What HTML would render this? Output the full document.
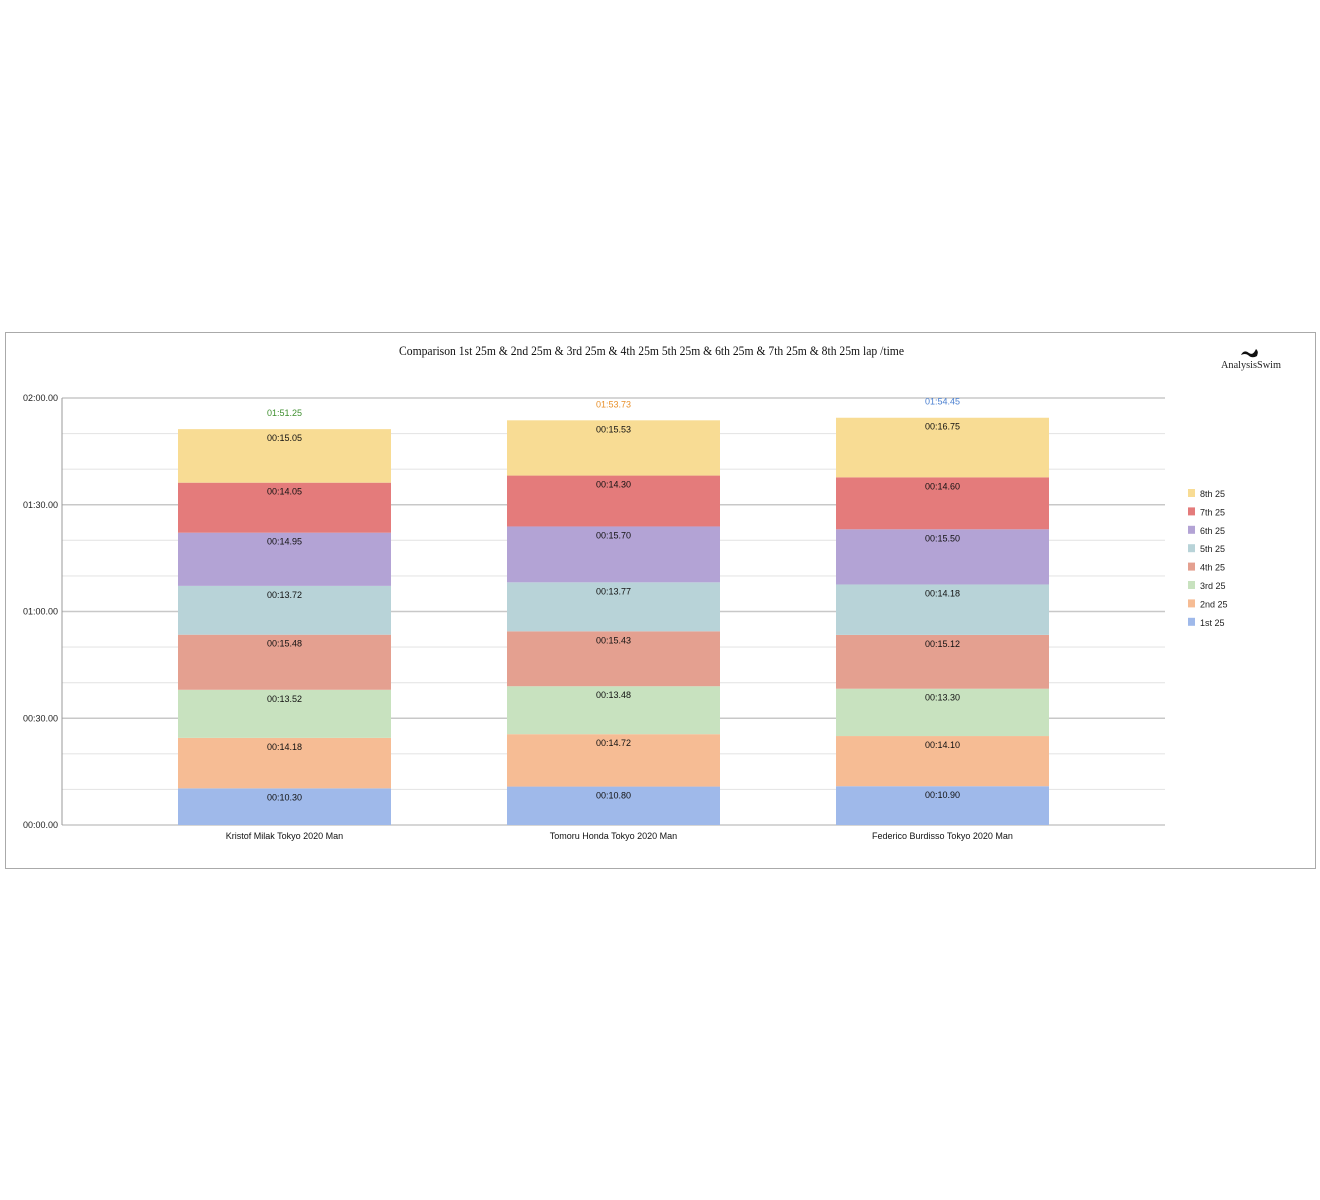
<!DOCTYPE html>
<html><head><meta charset="utf-8"><style>
body{margin:0;background:#fff;width:1320px;height:1200px;overflow:hidden;font-family:"Liberation Sans",sans-serif;}
#frame{position:absolute;left:5px;top:332px;width:1309px;height:535px;border:1px solid #aaa;}
</style></head><body>
<div id="frame"></div>
<svg id="c" width="1320" height="1200" style="position:absolute;left:0;top:0">
<text x="399" y="355" textLength="505" lengthAdjust="spacingAndGlyphs" font-family="Liberation Serif" font-size="13" fill="#111">Comparison 1st 25m &amp; 2nd 25m &amp; 3rd 25m &amp; 4th 25m 5th 25m &amp; 6th 25m &amp; 7th 25m &amp; 8th 25m lap /time</text>
<g><path d="M1241 355 q3 -6 8 -2 q4 3 7 -4 q3 2 1 7 q-5 3 -9 -1 q-3 -2 -7 0z" fill="#111"/><text x="1251" y="368" text-anchor="middle" font-family="Liberation Serif" font-size="11" textLength="60" lengthAdjust="spacingAndGlyphs" fill="#222">AnalysisSwim</text></g>
</svg>
<script>
const categories=["Kristof Milak  Tokyo 2020 Man","Tomoru Honda  Tokyo 2020 Man","Federico Burdisso Tokyo 2020 Man"];
const seriesNames=["1st 25","2nd 25","3rd 25","4th 25","5th 25","6th 25","7th 25","8th 25"];
const lap1=[10.30,10.80,10.90];
const lap2=[14.18,14.72,14.10];
const lap3=[13.52,13.48,13.30];
const lap4=[15.48,15.43,15.12];
const lap5=[13.72,13.77,14.18];
const lap6=[14.95,15.70,15.50];
const lap7=[14.05,14.30,14.60];
const lap8=[15.05,15.53,16.75];
const totalLabels=["01:51.25","01:53.73","01:54.45"];
const yTicks=[0,30,60,90,120];
const yTickLabels=["00:00.00","00:30.00","01:00.00","01:30.00","02:00.00"];
const series=[lap1,lap2,lap3,lap4,lap5,lap6,lap7,lap8];
const colors=["#9fb9ea","#f6bc94","#c8e2bf","#e4a090","#b8d3d8","#b3a3d5","#e47b7b","#f8dc94"];
const totalColors=["#3f8f2f","#e8902a","#4a7fd0"];
const NS="http://www.w3.org/2000/svg";
const svg=document.getElementById('c');
const y0=825,yTop=398,yMax=120;
const y=v=>y0-(v/yMax)*(y0-yTop);
const xC=i=>284.5+i*329;
const bw=213;
function mk(t,a,p){const e=document.createElementNS(NS,t);for(const k in a)e.setAttribute(k,a[k]);(p||svg).appendChild(e);return e;}
for(let v=0;v<=yMax;v+=10){
  const g=mk('line',{x1:62,x2:1165,y1:y(v),y2:y(v),stroke:v%30===0?'#c8c8c8':'#e6e6e6','stroke-width':v%30===0?1.5:1.2});
  
  
}
const ax=mk('line',{x1:62,x2:62,y1:yTop,y2:y0,stroke:'#999'});


yTicks.forEach((v,i)=>{
  const t=mk('text',{x:58,y:y(v)+3,'text-anchor':'end','font-size':9,fill:'#222'});
  t.textContent=yTickLabels[i];
  
  
});
categories.forEach((c,i)=>{
  let acc=0;
  series.forEach((s,k)=>{
    const v=s[i];
    const r=mk('rect',{x:xC(i)-bw/2,y:y(acc+v),width:bw,height:y(acc)-y(acc+v),fill:colors[k]});
    
    
    const t=mk('text',{x:xC(i),y:y(acc+v)+12,'text-anchor':'middle','font-size':9,fill:'#111'});
    t.textContent='00:'+v.toFixed(2).padStart(5,'0');
    
    
    acc+=v;
  });
  const tt=mk('text',{x:xC(i),y:y(acc)-13,'text-anchor':'middle','font-size':9,fill:totalColors[i]});
  tt.textContent=totalLabels[i];
  
  
  const xl=mk('text',{x:xC(i),y:839,'text-anchor':'middle','font-size':9,fill:'#111'});
  xl.textContent=c;
  
  
});
for(let k=7;k>=0;k--){
  const row=7-k;
  const g=mk('g',{});
  
  
  mk('rect',{x:1188,y:489+row*18.4,width:7,height:8,fill:colors[k]},g);
  const t=mk('text',{x:1200,y:497+row*18.4,'font-size':9,fill:'#222'},g);
  t.textContent=seriesNames[k];
}
</script>
</body></html>
